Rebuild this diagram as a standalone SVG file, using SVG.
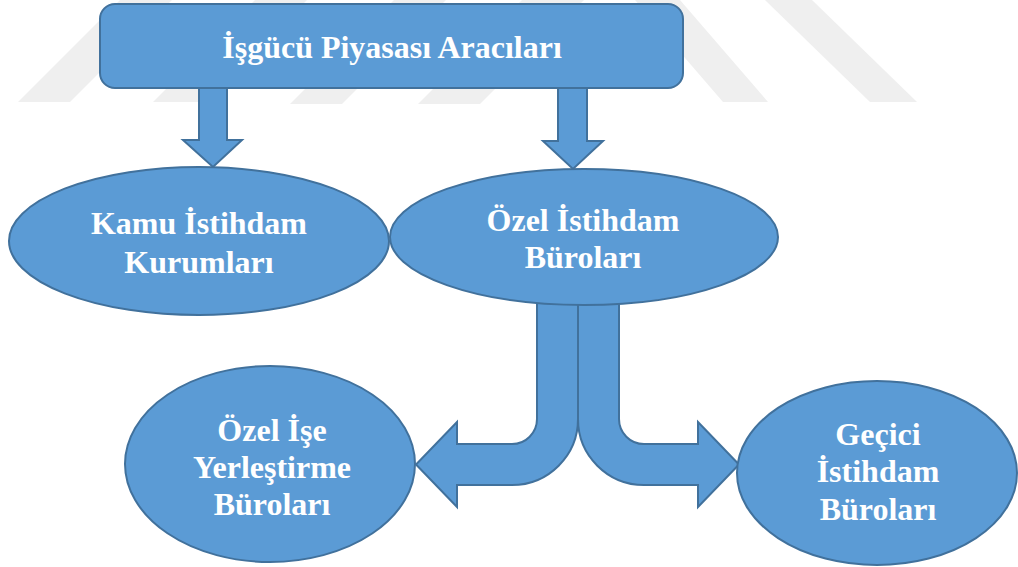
<svg xmlns="http://www.w3.org/2000/svg" width="1018" height="567" viewBox="0 0 1018 567">
  <defs>
    <style>
      .wm { fill: #efefef; }
      .shape { fill: #5b9bd5; stroke: #41719c; stroke-width: 2; stroke-linejoin: miter; }
      .lbl { fill: #ffffff; font-family: "Liberation Serif", "Times New Roman", serif; font-weight: bold; font-size: 32px; text-anchor: middle; }
    </style>
  </defs>

  <rect width="1018" height="567" fill="#ffffff"/>

  <!-- faint background chevron bands -->
  <g id="background-bands">
    <polygon class="wm" points="18,102 70,102 172,0 120,0"/>
    <polygon class="wm" points="153,102 205,102 307,0 255,0"/>
    <polygon class="wm" points="290,104 342,104 446,0 394,0"/>
    <polygon class="wm" points="418,104 480,104 584,0 522,0"/>
    <polygon class="wm" points="723,102 768,102 680,0 635,0"/>
    <polygon class="wm" points="870,102 917,102 812,0 765,0"/>
  </g>

  <!-- block arrows -->
  <g id="connectors">
    <!-- down arrow to Kamu İstihdam Kurumları -->
    <path class="shape" d="M199,86 L227,86 L227,140 L242,140 L213,167 L183,140 L199,140 Z"/>
    <!-- down arrow to Özel İstihdam Büroları -->
    <path class="shape" d="M558,86 L587,86 L587,141 L603,141 L573,169 L543,141 L558,141 Z"/>
    <!-- bent arrow to Özel İşe Yerleştirme Büroları -->
    <path class="shape" d="M537,298 L537,419 A25,25 0 0 1 512,444 L457,444 L457,422 L416,464.5 L457,507 L457,485 L512,485 A66,66 0 0 0 578,419 L578,298 Z"/>
    <!-- bent arrow to Geçici İstihdam Büroları -->
    <path class="shape" d="M619,298 L619,419 A25,25 0 0 0 644,444 L698,444 L698,422 L739,464.5 L698,507 L698,485 L644,485 A66,66 0 0 1 578,419 L578,298 Z"/>
  </g>

  <g id="node-isgucu">
    <rect class="shape" x="100" y="4" width="583" height="84" rx="15" ry="15"/>
    <text class="lbl" x="392" y="58">İşgücü Piyasası Aracıları</text>
  </g>

  <g id="node-kamu">
    <ellipse class="shape" cx="199" cy="241" rx="190" ry="74"/>
    <text class="lbl" x="199" y="234">Kamu İstihdam</text>
    <text class="lbl" x="199" y="273">Kurumları</text>
  </g>

  <g id="node-ozel">
    <ellipse class="shape" cx="584" cy="237" rx="194" ry="68"/>
    <text class="lbl" x="583" y="231">Özel İstihdam</text>
    <text class="lbl" x="583" y="268">Büroları</text>
  </g>

  <g id="node-ozel-ise">
    <ellipse class="shape" cx="270" cy="464" rx="145" ry="98"/>
    <text class="lbl" x="272" y="441">Özel İşe</text>
    <text class="lbl" x="272" y="478">Yerleştirme</text>
    <text class="lbl" x="272" y="515">Büroları</text>
  </g>

  <g id="node-gecici">
    <ellipse class="shape" cx="877" cy="473" rx="140" ry="92"/>
    <text class="lbl" x="878" y="445">Geçici</text>
    <text class="lbl" x="878" y="482">İstihdam</text>
    <text class="lbl" x="878" y="520">Büroları</text>
  </g>
</svg>
